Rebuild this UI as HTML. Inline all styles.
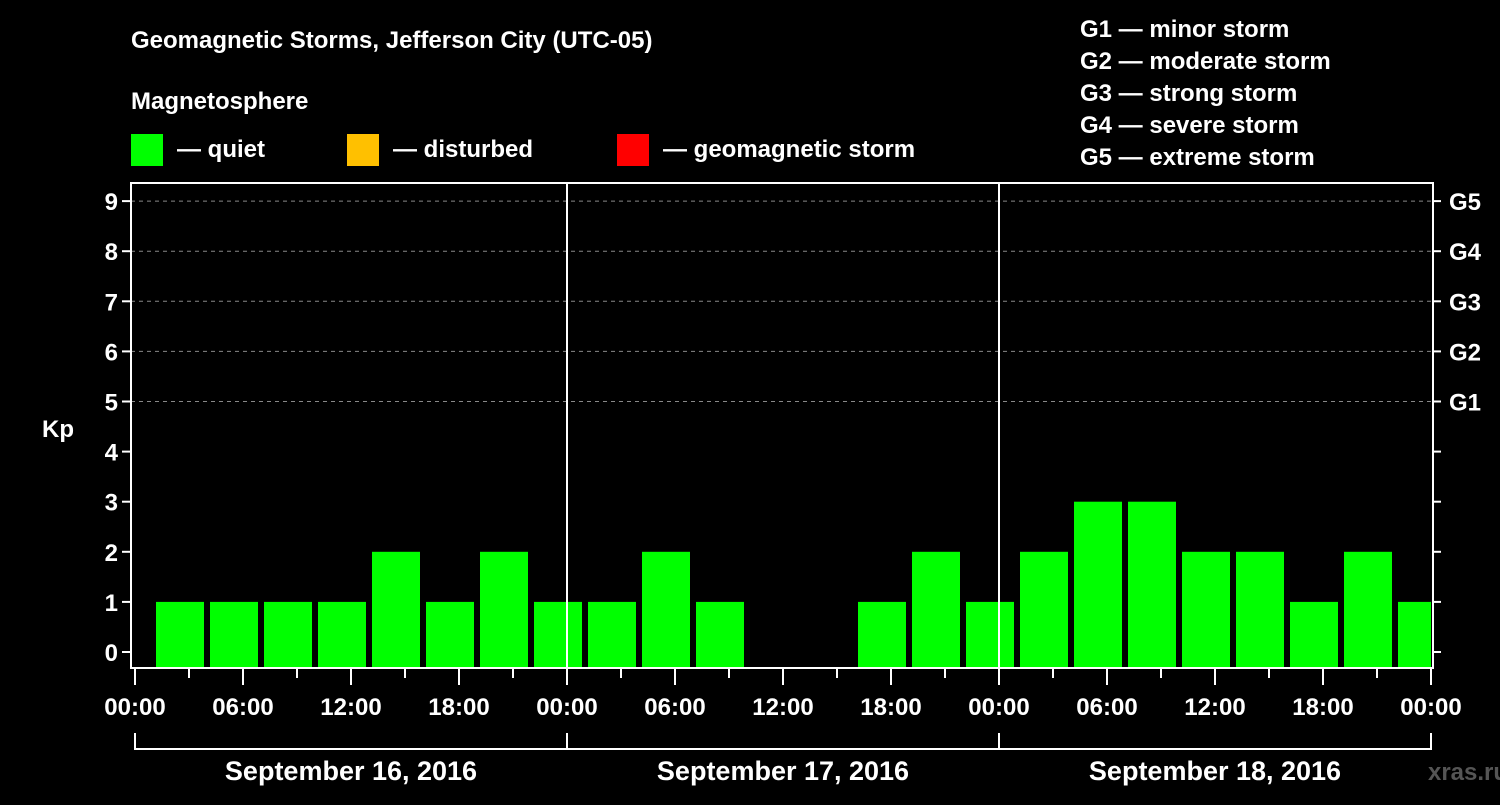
<!DOCTYPE html>
<html><head><meta charset="utf-8"><style>
body{margin:0;background:#000;}
svg text{font-family:"Liberation Sans",sans-serif;font-weight:bold;fill:#fff;}
</style></head><body>
<svg id="c" width="1500" height="800" xmlns="http://www.w3.org/2000/svg">
<rect width="1500" height="800" fill="#000"/>
<text x="131" y="48" font-size="24">Geomagnetic Storms, Jefferson City (UTC-05)</text>
<text x="131" y="109" font-size="24">Magnetosphere</text>
<rect x="131" y="134" width="32" height="32" fill="#00ff00"/>
<text x="177" y="157" font-size="24">— quiet</text>
<rect x="347" y="134" width="32" height="32" fill="#ffc000"/>
<text x="393" y="157" font-size="24">— disturbed</text>
<rect x="617" y="134" width="32" height="32" fill="#ff0000"/>
<text x="663" y="157" font-size="24">— geomagnetic storm</text>
<g font-size="24">
<text x="1080" y="37">G1 — minor storm</text>
<text x="1080" y="69">G2 — moderate storm</text>
<text x="1080" y="101">G3 — strong storm</text>
<text x="1080" y="133">G4 — severe storm</text>
<text x="1080" y="165">G5 — extreme storm</text>
</g>
<text x="42" y="437" font-size="24">Kp</text>
<g id="plot"></g>
<text x="1468" y="780" font-size="24" fill="#666" style="fill:#555" text-anchor="middle">xras.ru</text>
</svg>
<script>
const kpValues=[1,1,1,1,2,1,2,1, 1,2,1,0,0,1,2,1, 2,3,3,2,2,1,2,1];
const dayLabels=["September 16, 2016","September 17, 2016","September 18, 2016"];
const yTicks=[0,1,2,3,4,5,6,7,8,9];
const gLabels=["G1","G2","G3","G4","G5"];
const gLevels=[5,6,7,8,9];
const hourLabels=["00:00","06:00","12:00","18:00"];

const NS="http://www.w3.org/2000/svg";
const g=document.getElementById('plot');
const L=131,R=1433,T=183,B=668,X0=135,PXH=18;
const y=v=>652-v*50.1;
const x=h=>X0+h*PXH;
function el(t,a,p){const e=document.createElementNS(NS,t);for(const k in a)e.setAttribute(k,a[k]);(p||g).appendChild(e);return e;}
// grid
gLevels.forEach(v=>{
 const e=el('line',{x1:L,x2:R,y1:y(v),y2:y(v),stroke:'#888','stroke-width':1,'stroke-dasharray':'4,4'});
 
 
});
// bars
kpValues.forEach((v,i)=>{
 if(v<=0)return;
 const x1=x(i*3)+21, x2=Math.min(x1+48,R-2);
 const col=v>=5?'#ff0000':(v>=4?'#ffc000':'#00ff00');
 const e=el('rect',{x:x1,y:y(v),width:x2-x1,height:B-y(v),fill:col});
 
 
});
// frame
const fr=el('rect',{x:L,y:T,width:R-L,height:B-T,fill:'none',stroke:'#fff','stroke-width':2});


[1,2].forEach(d=>{
 const e=el('line',{x1:x(d*24),x2:x(d*24),y1:T,y2:B,stroke:'#fff','stroke-width':2});
 
 
});
// y ticks
yTicks.forEach(v=>{
 el('line',{x1:L-9,x2:L,y1:y(v),y2:y(v),stroke:'#fff','stroke-width':2});
 el('line',{x1:R,x2:R+8,y1:y(v),y2:y(v),stroke:'#fff','stroke-width':2});
 const t=el('text',{x:118,y:y(v)+9,'font-size':24,'text-anchor':'end'});t.textContent=v;
 
 
});
gLabels.forEach((s,i)=>{
 const t=el('text',{x:1449,y:y(gLevels[i])+9,'font-size':24});t.textContent=s;
 
 
});
// x ticks
for(let h=0;h<=72;h+=3){
 const major=h%6===0;
 el('line',{x1:x(h),x2:x(h),y1:B,y2:major?685:678,stroke:'#fff','stroke-width':2});
 if(major){
  const t=el('text',{x:x(h),y:715,'font-size':24,'text-anchor':'middle'});
  t.textContent=hourLabels[(h%24)/6];
  
  
 }
}
// day brackets
el('line',{x1:x(0),x2:x(72),y1:749,y2:749,stroke:'#fff','stroke-width':2});
for(let d=0;d<=3;d++) el('line',{x1:x(d*24),x2:x(d*24),y1:733,y2:750,stroke:'#fff','stroke-width':2});
dayLabels.forEach((s,d)=>{
 const t=el('text',{x:x(d*24+12),y:780,'font-size':27,'text-anchor':'middle'});t.textContent=s;
 
 
});
</script>
</body></html>
